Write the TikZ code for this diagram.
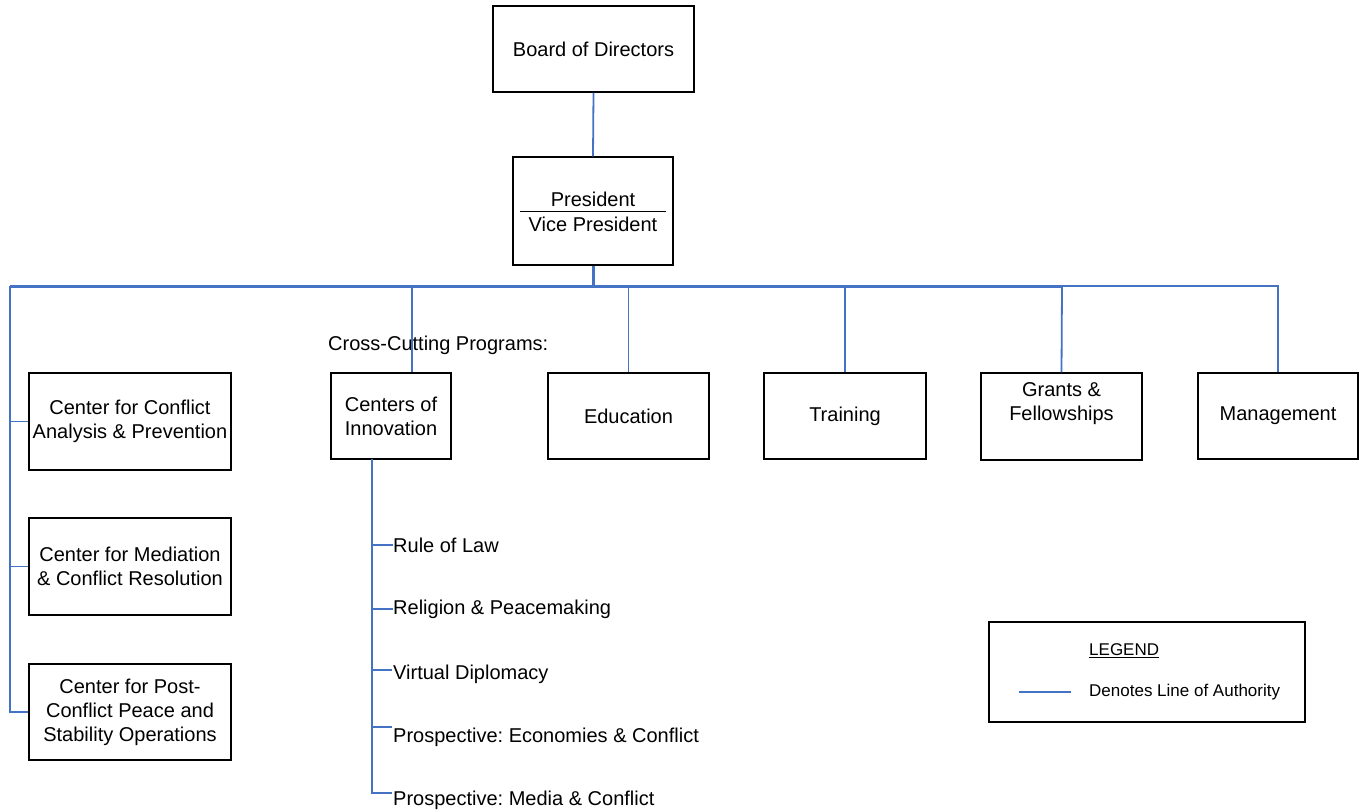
\documentclass[tikz,border=0pt]{standalone}
\usepackage{fontspec}
\setmainfont{Liberation Sans}
\definecolor{auth}{HTML}{4472C4}
\frenchspacing
\begin{document}
\begin{tikzpicture}[x=1pt,y=-1pt,
  box/.style 2 args={draw=black,line width=1.3pt,minimum width=#1pt,minimum height=#2pt,
    inner sep=0pt,align=center,font=\fontsize{20}{24}\selectfont},
  txt/.style={inner sep=0pt,align=center,font=\fontsize{20}{24}\selectfont},
  small/.style={inner sep=0pt,font=\fontsize{17}{20}\selectfont},
  authline/.style={draw=auth,line width=1.8pt},
  authbar/.style={draw=auth,line width=3pt},
  tick/.style={draw=auth,line width=1.4pt}]
\useasboundingbox (0,0) rectangle (1365,811);

% top
\node[box={201}{86}] (board) at (593.5,49) {Board of Directors};
\node[box={160}{108}] (pres) at (593,211) {};
\node[txt] (pt) at (593,199) {President};
\node[txt] (vp) at (593,224) {Vice President};
\draw[line width=1pt] (520,211) coordinate (rl) -- (666,211) coordinate (rr);

% boxes
\node[box={202}{97}] (ccap) at (130,421.5) {Center for Conflict\\Analysis \& Prevention};
\node[box={202}{97}] (cmcr) at (130,566.5) {Center for Mediation\\\& Conflict Resolution};
\node[box={202}{96}] (cpc) at (130,712) {Center for Post-\\Conflict Peace and\\Stability Operations};
\node[box={120}{86}] (coi) at (391,416) {Centers of\\Innovation};
\node[box={161}{86}] (edu) at (628.5,416) {Education};
\node[box={162}{86}] (trn) at (845,416) {Training};
\node[box={161}{87}] (gf) at (1061.5,416.5) {};
\node[txt] (gft) at (1061.5,404) {Grants \&\\Fellowships};
\node[box={160}{86}] (mgmt) at (1278,416) {Management};

\node[txt,anchor=west] (cross) at (328,345) {Cross-Cutting Programs:};

% connectors
\draw[authline] (board.south) -- (pres.north);
\coordinate (barL) at (10,286);
\coordinate (barM) at (1062,286);
\coordinate (cj) at (412,286);
\draw[authbar] (pres.south) -- (pres.south |- barL);
\draw[authbar] (barL) -- (barM);
\draw[authline] (barM) -- (mgmt.north |- barM) -- (mgmt.north);
\draw[authline] (barL) -- (barL |- cpc.west) -- (cpc.west);
\draw[authline] (barL |- ccap.west) -- (ccap.west);
\draw[authline] (barL |- cmcr.west) -- (cmcr.west);
\draw[authline] (cj) -- (cj |- coi.north);
\draw[authline] (edu.north |- barL) -- (edu.north);
\draw[authline] (trn.north |- barL) -- (trn.north);
\draw[authline] (barM) -- (gf.north);

% sub items
\node[txt,anchor=west] (i1) at (393,545) {Rule of Law};
\node[txt,anchor=west] (i2) at (393,609) {Religion \& Peacemaking};
\node[txt,anchor=west] (i3) at (393,674) {Virtual Diplomacy};
\node[txt,anchor=west] (i4) at (393,737) {Prospective: Economies \& Conflict};
\node[txt,anchor=west] (i5) at (393,800) {Prospective: Media \& Conflict};
\coordinate (sp) at (372,459);
\coordinate (t3) at (392,670);
\coordinate (t4) at (392,727);
\coordinate (t5) at (392,793);
\draw[authline] (sp) -- (sp |- t5) -- (t5);
\draw[tick] (sp |- i1.west) -- (i1.west);
\draw[tick] (sp |- i2.west) -- (i2.west);
\draw[tick] (sp |- t3) -- (t3);
\draw[tick] (sp |- t4) -- (t4);

% legend
\node[box={316}{100}] (leg) at (1147,672) {};
\node[small,anchor=west] (legt) at (1089,651) {\underline{LEGEND}};
\node[small,anchor=west] (legd) at (1089,692) {Denotes Line of Authority};
\coordinate (l1) at (1019,692);
\draw[tick] (l1) -- (1071,692);
\end{tikzpicture}
\end{document}
